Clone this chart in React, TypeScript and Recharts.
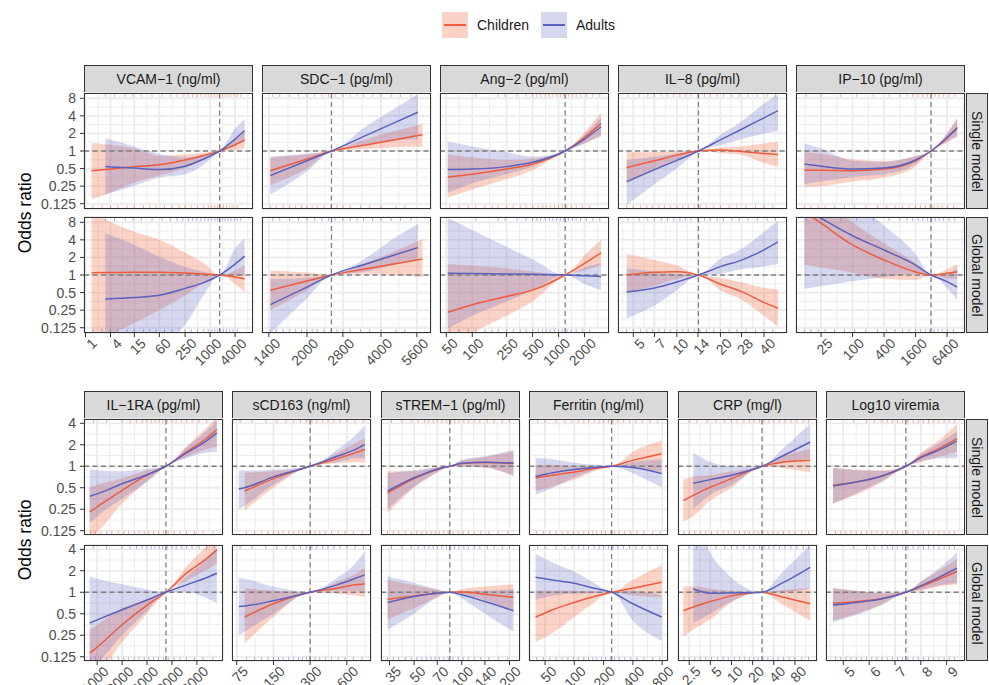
import React from 'react'
import { Area, CartesianGrid, ComposedChart, Line, ReferenceLine, Scatter, XAxis, YAxis } from 'recharts'

// every point is [lower, fit, upper] odds ratio; null where a group has no data

// VCAM-1 (ng/ml)
const vcamX = [1.4, 3, 15, 60, 250, 700, 1700, 4000, 6800]
const vcamTicks = [1, 4, 15, 60, 250, 1000, 4000]
const vcamSingleChildren = [[0.15, 0.46, 1.37], [0.18, 0.48, 1.3], [0.29, 0.54, 1.1], [0.38, 0.58, 0.83], [0.51, 0.7, 0.87], [0.7, 0.84, 0.93], [1, 1, 1], [1.05, 1.28, 1.5], [1.12, 1.55, 2.2]]
const vcamSingleAdults = [null, [0.18, 0.54, 1.65], [0.255, 0.51, 1.19], [0.35, 0.48, 0.89], [0.4, 0.55, 0.78], [0.58, 0.73, 0.85], [1, 1, 1], [1.23, 1.6, 2.4], [1.44, 2.25, 3.5]]
const vcamGlobalChildren = [[0.05, 1.09, 12], [0.08, 1.1, 9], [0.15, 1.12, 5.5], [0.25, 1.12, 4], [0.45, 1.08, 2.4], [0.72, 1.04, 1.6], [1, 1, 1], [0.7, 0.92, 1.2], [0.5, 0.86, 1.45]]
const vcamGlobalAdults = [null, [0.02, 0.39, 5.2], [0.04, 0.41, 3.3], [0.07, 0.45, 2.06], [0.14, 0.59, 1.39], [0.45, 0.74, 1.14], [1, 1, 1], [0.98, 1.54, 2.86], [1.0, 2.1, 4.2]]
const vcamRugTop = [3, 5, 9, 14, 22, 40, 70, 110, 160, 220, 300, 380, 480, 600, 750, 900, 1100, 1300, 1500, 1700, 2000, 2300, 2700, 3200, 3800, 4500, 5500]
const vcamRugBottom = [1.5, 2.5, 4, 6, 10, 15, 25, 35, 50, 80, 120, 180, 250, 350, 500, 700, 900, 1100, 1300, 1500, 1800, 2100, 2500, 3000, 3600, 4500]

// SDC-1 (pg/ml)
const sdcX = [1420, 2000, 2516, 3500, 4500, 5650, 5900]
const sdcTicks = [1400, 2000, 2800, 4000, 5600]
const sdcSingleChildren = [[0.26, 0.46, 0.78], [0.5, 0.73, 0.88], [1, 1, 1], [1.08, 1.28, 1.6], [1.15, 1.55, 2.2], [1.2, 1.84, 2.8], [1.15, 1.9, 3.0]]
const sdcSingleAdults = [[0.18, 0.38, 0.8], [0.45, 0.68, 0.9], [1, 1, 1], [1.3, 1.87, 2.7], [1.5, 3.0, 5.2], [1.6, 4.6, 9.5], null]
const sdcGlobalChildren = [[0.25, 0.55, 1.2], [0.55, 0.79, 1.1], [1, 1, 1], [1.05, 1.28, 1.65], [1.02, 1.54, 2.5], [0.93, 1.82, 3.8], [0.91, 1.88, 4.1]]
const sdcGlobalAdults = [[0.1, 0.31, 0.85], [0.4, 0.62, 0.9], [1, 1, 1], [1.15, 1.56, 2.0], [1.5, 2.18, 4.2], [1.8, 2.94, 7.5], null]
const sdcRugTop = [1450, 1550, 1700, 1850, 2000, 2150, 2300, 2450, 2600, 2800, 3000, 3200, 3400, 3700, 4000, 4400, 4800, 5300]
const sdcRugBottom = [1420, 1500, 1600, 1700, 1800, 1900, 2000, 2100, 2200, 2350, 2500, 2650, 2800, 3000, 3300, 3600, 4000, 4600, 5000]

// Ang-2 (pg/ml)
const angX = [52, 100, 250, 500, 1193, 2000, 3110]
const angTicks = [50, 100, 250, 500, 1000, 2000]
const angSingleChildren = [[0.16, 0.36, 0.87], [0.22, 0.4, 0.78], [0.33, 0.49, 0.7], [0.47, 0.6, 0.74], [1, 1, 1], [1.35, 1.71, 2.1], [1.9, 2.97, 4.6]]
const angSingleAdults = [[0.19, 0.48, 1.46], [0.28, 0.49, 1.2], [0.4, 0.54, 0.95], [0.54, 0.64, 0.8], [1, 1, 1], [1.35, 1.6, 1.9], [1.75, 2.6, 3.8]]
const angGlobalChildren = [[0.05, 0.23, 1.55], [0.1, 0.31, 1.45], [0.2, 0.43, 1.3], [0.35, 0.55, 1.15], [1, 1, 1], [1.2, 1.58, 2.2], [1.48, 2.41, 3.97]]
const angGlobalAdults = [[0.12, 1.07, 9.5], [0.2, 1.06, 5.9], [0.35, 1.04, 3.05], [0.55, 1.03, 1.86], [1, 1, 1], [0.7, 0.97, 1.35], [0.55, 0.94, 1.6]]
const angRugTop = [110, 200, 240, 330, 420, 500, 560, 620, 700, 780, 860, 950, 1050, 1150, 1300, 1450, 1600, 1800, 2100, 2500, 3000]
const angRugBottom = [55, 70, 90, 110, 140, 170, 200, 250, 300, 360, 420, 500, 580, 650, 720, 800, 900, 1000, 1100, 1250, 1400, 1600, 1900, 2300]

// IL-8 (pg/ml)
const il8X = [4.5, 7, 10, 14.1, 20, 28, 40, 50]
const il8Ticks = [5, 7, 10, 14, 20, 28, 40]
const il8SingleChildren = [[0.28, 0.52, 0.95], [0.47, 0.68, 0.95], [0.7, 0.85, 1.0], [1, 1, 1], [0.92, 1.04, 1.15], [0.85, 0.98, 1.2], [0.62, 0.91, 1.35], [0.53, 0.87, 1.44]]
const il8SingleAdults = [[0.12, 0.3, 0.7], [0.27, 0.48, 0.8], [0.5, 0.69, 0.9], [1, 1, 1], [1.25, 1.55, 1.9], [1.6, 2.36, 3.2], [2.0, 3.7, 6.5], [2.2, 4.9, 9.4]]
const il8GlobalChildren = [[0.5, 1.0, 2.3], [0.65, 1.11, 1.8], [0.85, 1.14, 1.45], [1, 1, 1], [0.55, 0.7, 0.9], [0.38, 0.52, 0.75], [0.2, 0.34, 0.6], [0.13, 0.27, 0.57]]
const il8GlobalAdults = [[0.18, 0.51, 1.3], [0.3, 0.6, 1.15], [0.55, 0.76, 1.05], [1, 1, 1], [1.05, 1.39, 1.9], [1.25, 1.8, 2.8], [1.4, 2.7, 5.5], [1.55, 3.7, 8.5]]
const il8RugTop = [4.6, 5.5, 6.3, 7, 7.8, 8.6, 9.5, 10.5, 11.5, 12.5, 14, 15.5, 17, 19, 21, 24, 27, 31, 36, 42, 48]
const il8RugBottom = [4.5, 5, 5.6, 6.2, 6.8, 7.5, 8.2, 9, 10, 11, 12, 13.2, 14.5, 16, 18, 20, 23, 26, 30, 35, 40, 46]

// IP-10 (pg/ml)
const ip10X = [12, 25, 100, 400, 1600, 3160, 6400, 10000]
const ip10Ticks = [25, 100, 400, 1600, 6400]
const ip10SingleChildren = [[0.24, 0.47, 0.95], [0.25, 0.47, 0.9], [0.3, 0.46, 0.72], [0.35, 0.49, 0.67], [0.55, 0.68, 0.82], [1, 1, 1], [1.4, 1.67, 2.0], [1.75, 2.54, 3.7]]
const ip10SingleAdults = [[0.27, 0.6, 1.35], [0.3, 0.55, 1.1], [0.36, 0.49, 0.68], [0.4, 0.51, 0.65], [0.6, 0.7, 0.82], [1, 1, 1], [1.45, 1.7, 2.0], [1.8, 2.44, 3.5]]
const ip10GlobalChildren = [[1.5, 12, 40], [1.35, 7.7, 25], [1.1, 3.27, 8], [0.85, 1.81, 3.5], [0.82, 1.13, 1.6], [1, 1, 1], [0.88, 1.07, 1.25], [0.85, 1.14, 1.55]]
const ip10GlobalAdults = [[0.58, 14, 100], [0.65, 9.4, 50], [0.78, 4.7, 20], [0.92, 2.68, 7], [1.05, 1.48, 2.3], [1, 1, 1], [0.6, 0.77, 1.05], [0.37, 0.62, 1.35]]
const ip10RugTop = [13, 25, 60, 120, 250, 500, 800, 1100, 1400, 1800, 2200, 2700, 3200, 3800, 4500, 5500, 7000, 9000]
const ip10RugBottom = [12, 16, 22, 30, 45, 70, 110, 180, 300, 450, 650, 900, 1200, 1600, 2000, 2500, 3000, 3600, 4300, 5200, 6500, 8500]

// IL-1RA (pg/ml)
const il1raX = [812, 1000, 2000, 4000, 6770, 12000, 20000, 27900]
const il1raTicks = [1000, 2000, 4000, 8000, 16000]
const il1raSingleChildren = [[0.1, 0.23, 0.51], [0.12, 0.27, 0.55], [0.3, 0.46, 0.68], [0.62, 0.75, 0.88], [1, 1, 1], [1.35, 1.59, 1.9], [1.7, 2.37, 3.3], [1.87, 3.27, 4.7]]
const il1raSingleAdults = [[0.16, 0.38, 0.9], [0.2, 0.41, 0.88], [0.35, 0.57, 0.85], [0.6, 0.76, 0.92], [1, 1, 1], [1.3, 1.54, 1.85], [1.55, 2.19, 3.0], [1.59, 2.94, 4.3]]
const il1raGlobalChildren = [[0.06, 0.14, 0.3], [0.07, 0.17, 0.35], [0.2, 0.35, 0.6], [0.5, 0.66, 0.8], [1, 1, 1], [1.45, 1.85, 2.3], [2.0, 2.85, 4.2], [2.5, 3.93, 6.5]]
const il1raGlobalAdults = [[0.08, 0.37, 1.66], [0.1, 0.41, 1.55], [0.25, 0.57, 1.3], [0.55, 0.78, 1.1], [1, 1, 1], [1.0, 1.27, 1.65], [0.85, 1.57, 2.8], [0.7, 1.85, 4.2]]
const il1raRugTop = [900, 1300, 2000, 2500, 3000, 3500, 4000, 4500, 5000, 5600, 6200, 7000, 8000, 9000, 10500, 12000, 14000, 17000, 21000, 26000]
const il1raRugBottom = [830, 950, 1100, 1300, 1500, 1800, 2100, 2400, 2800, 3200, 3700, 4200, 4800, 5500, 6300, 7200, 8500, 10000, 12000, 15000, 19000, 25000]

// sCD163 (ng/ml)
const scdX = [78, 87, 150, 300, 500, 700, 843]
const scdTicks = [75, 150, 300, 600]
const scdSingleChildren = [null, [0.24, 0.45, 0.82], [0.5, 0.67, 0.85], [1, 1, 1], [1.1, 1.28, 1.55], [1.15, 1.54, 2.1], [1.12, 1.73, 2.5]]
const scdSingleAdults = [[0.25, 0.48, 0.87], [0.28, 0.5, 0.87], [0.55, 0.71, 0.9], [1, 1, 1], [1.15, 1.38, 1.7], [1.3, 1.71, 2.7], [1.3, 2.01, 3.7]]
const scdGlobalChildren = [null, [0.19, 0.45, 1.15], [0.45, 0.69, 1.05], [1, 1, 1], [0.95, 1.14, 1.4], [0.9, 1.27, 1.8], [0.85, 1.32, 2.2]]
const scdGlobalAdults = [[0.25, 0.63, 1.6], [0.28, 0.64, 1.55], [0.5, 0.76, 1.2], [1, 1, 1], [1.05, 1.27, 1.6], [1.05, 1.56, 2.5], [1.0, 1.75, 3.8]]
const scdRugTop = [80, 100, 130, 160, 190, 220, 250, 280, 310, 340, 380, 420, 470, 530, 600, 700, 820]
const scdRugBottom = [90, 105, 120, 135, 150, 165, 180, 200, 220, 240, 260, 280, 300, 330, 360, 400, 450, 510, 580, 680, 800]

// sTREM-1 (pg/ml)
const stremX = [34, 50, 70, 84, 100, 140, 212]
const stremTicks = [35, 50, 70, 100, 140, 200]
const stremSingleChildren = [[0.22, 0.42, 0.85], [0.5, 0.67, 0.85], [0.82, 0.9, 0.98], [1, 1, 1], [1.0, 1.09, 1.2], [0.95, 1.13, 1.35], [0.75, 1.09, 1.6]]
const stremSingleAdults = [[0.25, 0.45, 0.8], [0.52, 0.69, 0.88], [0.83, 0.91, 0.97], [1, 1, 1], [1.0, 1.1, 1.22], [0.97, 1.14, 1.38], [0.72, 1.11, 1.7]]
const stremGlobalChildren = [[0.42, 0.8, 1.5], [0.6, 0.89, 1.25], [0.85, 0.97, 1.08], [1, 1, 1], [0.93, 1.01, 1.1], [0.78, 0.94, 1.2], [0.55, 0.85, 1.3]]
const stremGlobalAdults = [[0.3, 0.72, 1.66], [0.5, 0.87, 1.35], [0.85, 0.97, 1.1], [1, 1, 1], [0.82, 0.92, 1.04], [0.5, 0.74, 1.05], [0.28, 0.55, 1.1]]
const stremRugTop = [36, 42, 48, 53, 58, 62, 66, 70, 75, 80, 85, 90, 96, 103, 110, 120, 130, 145, 160, 180, 200]
const stremRugBottom = [34, 37, 40, 44, 48, 52, 56, 60, 64, 68, 72, 77, 82, 88, 95, 102, 110, 120, 132, 148, 170, 195]

// Ferritin (ng/ml)
const ferX = [40, 60, 100, 160, 242, 400, 790]
const ferTicks = [50, 100, 200, 400, 800]
const ferSingleChildren = [[0.45, 0.69, 1.05], [0.52, 0.75, 1.05], [0.65, 0.83, 1.0], [0.85, 0.93, 1.0], [1, 1, 1], [0.95, 1.21, 1.6], [0.83, 1.5, 2.27]]
const ferSingleAdults = [[0.4, 0.72, 1.32], [0.5, 0.81, 1.25], [0.7, 0.9, 1.12], [0.88, 0.96, 1.04], [1, 1, 1], [0.8, 0.96, 1.15], [0.5, 0.79, 1.25]]
const ferGlobalChildren = [[0.2, 0.45, 1.05], [0.27, 0.57, 1.05], [0.45, 0.72, 1.05], [0.72, 0.87, 1.03], [1, 1, 1], [0.9, 1.14, 1.5], [0.85, 1.38, 2.4]]
const ferGlobalAdults = [[0.78, 1.62, 3.5], [0.9, 1.49, 2.6], [0.95, 1.34, 1.95], [0.98, 1.14, 1.35], [1, 1, 1], [0.4, 0.69, 1.05], [0.21, 0.45, 0.9]]
const ferRugTop = [42, 50, 65, 80, 95, 110, 125, 140, 160, 180, 200, 225, 250, 280, 320, 370, 430, 500, 600, 720]
const ferRugBottom = [41, 48, 56, 65, 75, 86, 98, 110, 125, 140, 155, 170, 190, 210, 235, 260, 290, 330, 380, 440, 520, 640, 760]

// CRP (mg/l)
const crpX = [2.06, 2.85, 5, 10, 27.2, 50, 132]
const crpTicks = [2.5, 5, 10, 20, 40, 80]
const crpSingleChildren = [[0.17, 0.33, 0.65], [0.2, 0.39, 0.72], [0.33, 0.51, 0.75], [0.5, 0.67, 0.85], [1, 1, 1], [0.95, 1.13, 1.35], [0.82, 1.21, 1.75]]
const crpSingleAdults = [null, [0.25, 0.58, 1.55], [0.4, 0.65, 1.15], [0.55, 0.75, 1.0], [1, 1, 1], [1.1, 1.35, 1.65], [1.3, 2.19, 3.97]]
const crpGlobalChildren = [[0.24, 0.55, 1.2], [0.3, 0.62, 1.2], [0.42, 0.74, 1.12], [0.72, 0.89, 1.05], [1, 1, 1], [0.7, 0.87, 1.07], [0.4, 0.69, 1.15]]
const crpGlobalAdults = [null, [0.37, 1.11, 10], [0.5, 0.97, 3.5], [0.75, 0.98, 1.6], [1, 1, 1], [1.0, 1.31, 1.8], [1.14, 2.24, 4.6]]
const crpRugTop = [2.5, 3.2, 4.5, 6, 8, 10, 12, 15, 18, 21, 25, 29, 34, 40, 48, 58, 70, 85, 105, 125]
const crpRugBottom = [2.1, 2.5, 3, 3.6, 4.3, 5.2, 6.3, 7.6, 9, 11, 13, 15.5, 18, 21, 24, 28, 33, 39, 46, 55, 66, 80, 100, 125]

// Log10 viremia
const virX = [4.6, 5.5, 6.5, 7.42, 8, 8.7, 9.4]
const virTicks = [5, 6, 7, 8, 9]
const virSingleChildren = [[0.3, 0.54, 0.95], [0.4, 0.6, 0.9], [0.6, 0.73, 0.88], [1, 1, 1], [1.15, 1.35, 1.55], [1.35, 1.77, 2.3], [1.6, 2.44, 3.9]]
const virSingleAdults = [[0.3, 0.53, 0.95], [0.42, 0.6, 0.88], [0.62, 0.73, 0.86], [1, 1, 1], [1.18, 1.32, 1.48], [1.3, 1.68, 2.1], [1.3, 2.27, 3.1]]
const virGlobalChildren = [[0.4, 0.7, 1.15], [0.5, 0.74, 1.05], [0.68, 0.82, 0.98], [1, 1, 1], [1.05, 1.2, 1.4], [1.2, 1.52, 2.0], [1.3, 1.95, 2.9]]
const virGlobalAdults = [[0.38, 0.66, 1.15], [0.48, 0.72, 1.05], [0.67, 0.81, 0.97], [1, 1, 1], [1.08, 1.23, 1.42], [1.25, 1.62, 2.15], [1.35, 2.17, 3.6]]
const virRugTop = [5.4, 5.9, 6.2, 6.5, 6.7, 6.9, 7.1, 7.3, 7.5, 7.7, 7.9, 8.1, 8.3, 8.5, 8.7, 8.9, 9.1, 9.3]
const virRugBottom = [4.7, 4.9, 5.1, 5.3, 5.5, 5.7, 5.9, 6.1, 6.3, 6.5, 6.7, 6.9, 7.1, 7.3, 7.5, 7.7, 7.9, 8.1, 8.3, 8.5, 8.7, 8.9, 9.1, 9.3]

const yTicksTop = [0.125, 0.25, 0.5, 1, 2, 4, 8]
const yTicksBottom = [0.125, 0.25, 0.5, 1, 2, 4]

const CHILD_LINE = '#EF5B3D'
const CHILD_FILL = '#F26B43'
const ADULT_LINE = '#5C61BD'
const ADULT_FILL = '#6268C4'
const CHILD_OPACITY = 0.3
const ADULT_OPACITY = 0.26
const TEXT_GREY = '#4D4D4D'
const DARK = '#333333'

const topVars = [
  { label: 'VCAM−1 (ng/ml)', x: vcamX, ticks: vcamTicks, ref: 1700, domain: [0.92, 10800], log: true, sc: vcamSingleChildren, sa: vcamSingleAdults, gc: vcamGlobalChildren, ga: vcamGlobalAdults, rugTop: vcamRugTop, rugBottom: vcamRugBottom },
  { label: 'SDC−1 (pg/ml)', x: sdcX, ticks: sdcTicks, ref: 2516, domain: [1313, 6390], log: true, sc: sdcSingleChildren, sa: sdcSingleAdults, gc: sdcGlobalChildren, ga: sdcGlobalAdults, rugTop: sdcRugTop, rugBottom: sdcRugBottom },
  { label: 'Ang−2 (pg/ml)', x: angX, ticks: angTicks, ref: 1193, domain: [42.3, 3840], log: true, sc: angSingleChildren, sa: angSingleAdults, gc: angGlobalChildren, ga: angGlobalAdults, rugTop: angRugTop, rugBottom: angRugBottom },
  { label: 'IL−8 (pg/ml)', x: il8X, ticks: il8Ticks, ref: 14.1, domain: [3.92, 57.7], log: true, sc: il8SingleChildren, sa: il8SingleAdults, gc: il8GlobalChildren, ga: il8GlobalAdults, rugTop: il8RugTop, rugBottom: il8RugBottom },
  { label: 'IP−10 (pg/ml)', x: ip10X, ticks: ip10Ticks, ref: 3160, domain: [8.3, 14100], log: true, sc: ip10SingleChildren, sa: ip10SingleAdults, gc: ip10GlobalChildren, ga: ip10GlobalAdults, rugTop: ip10RugTop, rugBottom: ip10RugBottom },
]

const bottomVars = [
  { label: 'IL−1RA (pg/ml)', x: il1raX, ticks: il1raTicks, ref: 6770, domain: [693, 33100], log: true, sc: il1raSingleChildren, sa: il1raSingleAdults, gc: il1raGlobalChildren, ga: il1raGlobalAdults, rugTop: il1raRugTop, rugBottom: il1raRugBottom },
  { label: 'sCD163 (ng/ml)', x: scdX, ticks: scdTicks, ref: 300, domain: [68.6, 947], log: true, sc: scdSingleChildren, sa: scdSingleAdults, gc: scdGlobalChildren, ga: scdGlobalAdults, rugTop: scdRugTop, rugBottom: scdRugBottom },
  { label: 'sTREM−1 (pg/ml)', x: stremX, ticks: stremTicks, ref: 84, domain: [30.9, 233], log: true, sc: stremSingleChildren, sa: stremSingleAdults, gc: stremGlobalChildren, ga: stremGlobalAdults, rugTop: stremRugTop, rugBottom: stremRugBottom },
  { label: 'Ferritin (ng/ml)', x: ferX, ticks: ferTicks, ref: 242, domain: [34.2, 919], log: true, sc: ferSingleChildren, sa: ferSingleAdults, gc: ferGlobalChildren, ga: ferGlobalAdults, rugTop: ferRugTop, rugBottom: ferRugBottom },
  { label: 'CRP (mg/l)', x: crpX, ticks: crpTicks, ref: 27.2, domain: [1.73, 165], log: true, sc: crpSingleChildren, sa: crpSingleAdults, gc: crpGlobalChildren, ga: crpGlobalAdults, rugTop: crpRugTop, rugBottom: crpRugBottom },
  { label: 'Log10 viremia', x: virX, ticks: virTicks, ref: 7.42, domain: [4.33, 9.71], log: false, sc: virSingleChildren, sa: virSingleAdults, gc: virGlobalChildren, ga: virGlobalAdults, rugTop: virRugTop, rugBottom: virRugBottom },
]

// minor grid breaks half way between major ones (in transformed space)
function minorBreaks(ticks: number[], domain: number[], log: boolean) {
  const n = ticks.length
  const mid = (a: number, b: number) => (log ? Math.sqrt(a * b) : (a + b) / 2)
  const out = [log ? ticks[0] / Math.sqrt(ticks[1] / ticks[0]) : ticks[0] - (ticks[1] - ticks[0]) / 2]
  for (let i = 0; i < n - 1; i++) out.push(mid(ticks[i], ticks[i + 1]))
  out.push(log ? ticks[n - 1] * Math.sqrt(ticks[n - 1] / ticks[n - 2]) : ticks[n - 1] + (ticks[n - 1] - ticks[n - 2]) / 2)
  return out.filter((v) => v > domain[0] && v < domain[1])
}

// rotated 45 degree labels, top-right corner near the tick
const XTick = (p: any) => {
  const x = p.x + 5
  return (
    <text
      x={x}
      y={p.y}
      transform={`rotate(-45 ${x} ${p.y})`}
      textAnchor="end"
      dominantBaseline="hanging"
      fontSize={14}
      fill={TEXT_GREY}
    >
      {p.payload.value}
    </text>
  )
}

const Y_W = 84
const X_H = 44

function Panel({ v, row, left, top, w, h, yDomain, yTicks, showY, showX }: any) {
  const yw = showY ? Y_W : 0
  const xh = showX ? X_H : 0
  const c = row === 'single' ? v.sc : v.gc
  const a = row === 'single' ? v.sa : v.ga
  const data = v.x.map((x: number, i: number) => ({
    x,
    cFit: c[i] ? c[i][1] : null,
    cBand: c[i] ? [c[i][0], c[i][2]] : null,
    aFit: a[i] ? a[i][1] : null,
    aBand: a[i] ? [a[i][0], a[i][2]] : null,
  }))
  const rugColor = row === 'single' ? CHILD_LINE : ADULT_LINE
  const rugTop = v.rugTop.map((x: number) => ({ x, y: yDomain[1] }))
  const rugBottom = v.rugBottom.map((x: number) => ({ x, y: yDomain[0] }))
  const rug = (dir: number) => (p: any) => (
    <line x1={p.cx} x2={p.cx} y1={p.cy} y2={p.cy + dir * 4} stroke={rugColor} strokeOpacity={0.55} strokeWidth={0.9} />
  )
  return (
    <>
      <div style={{ position: 'absolute', left: left - yw, top }}>
        <ComposedChart width={w + yw} height={h + xh} data={data} margin={{ top: 0, right: 0, bottom: 0, left: 0 }}>
          <CartesianGrid
            stroke="#EBEBEB"
            strokeWidth={0.9}
            verticalValues={minorBreaks(v.ticks, v.domain, v.log)}
            horizontalValues={minorBreaks(yTicks, yDomain, true)}
          />
          <CartesianGrid stroke="#EBEBEB" strokeWidth={1.8} />
          <XAxis
            dataKey="x"
            type="number"
            scale={v.log ? 'log' : 'linear'}
            domain={v.domain}
            allowDataOverflow
            ticks={v.ticks}
            interval={0}
            hide={!showX}
            height={xh}
            axisLine={false}
            tickSize={4}
            tickMargin={0}
            tickLine={{ stroke: DARK }}
            tick={(p: any) => <XTick {...p} />}
          />
          <YAxis
            type="number"
            scale="log"
            domain={yDomain}
            allowDataOverflow
            ticks={yTicks}
            interval={0}
            hide={!showY}
            width={yw}
            axisLine={false}
            tickSize={4}
            tickMargin={4}
            tickLine={{ stroke: DARK }}
            tick={{ fontSize: 14, fill: TEXT_GREY }}
          />
          <Area dataKey="cBand" type="monotone" stroke="none" fill={CHILD_FILL} fillOpacity={CHILD_OPACITY} isAnimationActive={false} />
          <Area dataKey="aBand" type="monotone" stroke="none" fill={ADULT_FILL} fillOpacity={ADULT_OPACITY} isAnimationActive={false} />
          <ReferenceLine y={1} stroke="#808080" strokeWidth={1.3} strokeDasharray="5 3.5" />
          <ReferenceLine x={v.ref} stroke="#808080" strokeWidth={1.3} strokeDasharray="5 3.5" />
          <Line dataKey="cFit" type="monotone" stroke={CHILD_LINE} strokeWidth={1.5} dot={false} isAnimationActive={false} />
          <Line dataKey="aFit" type="monotone" stroke={ADULT_LINE} strokeWidth={1.5} dot={false} isAnimationActive={false} />
          <Scatter data={rugTop} dataKey="y" shape={rug(1)} isAnimationActive={false} />
          <Scatter data={rugBottom} dataKey="y" shape={rug(-1)} isAnimationActive={false} />
        </ComposedChart>
      </div>
      <div
        style={{
          position: 'absolute', left, top, width: w, height: h,
          border: `1.5px solid ${DARK}`, boxSizing: 'border-box', pointerEvents: 'none',
        }}
      />
    </>
  )
}

function Strip({ left, top, w, h, label, vertical }: any) {
  return (
    <div
      style={{
        position: 'absolute', left, top, width: w, height: h, boxSizing: 'border-box',
        background: '#D9D9D9', border: `1.5px solid ${DARK}`, color: '#1A1A1A', fontSize: 14,
        display: 'flex', alignItems: 'center', justifyContent: 'center', whiteSpace: 'nowrap',
        writingMode: vertical ? 'vertical-rl' : undefined,
      }}
    >
      {label}
    </div>
  )
}

function Block({ vars, lefts, w, stripTop, rows, yDomain, yTicks, titleY }: any) {
  return (
    <>
      {vars.map((v: any, i: number) => (
        <Strip key={'s' + i} left={lefts[i]} top={stripTop} w={w} h={28} label={v.label} />
      ))}
      {rows.map((r: any) =>
        vars.map((v: any, i: number) => (
          <Panel
            key={r.row + i}
            v={v}
            row={r.row}
            left={lefts[i]}
            top={r.top}
            w={w}
            h={r.h}
            yDomain={yDomain}
            yTicks={yTicks}
            showY={i === 0}
            showX={r.row === 'global'}
          />
        ))
      )}
      {rows.map((r: any) => (
        <Strip key={'r' + r.row} left={966} top={r.top} w={22} h={r.h} label={r.row === 'single' ? 'Single model' : 'Global model'} vertical />
      ))}
      <div
        style={{
          position: 'absolute', left: 25, top: titleY, transform: 'translate(-50%, -50%) rotate(-90deg)',
          fontSize: 17.5, color: '#000', whiteSpace: 'nowrap',
        }}
      >
        Odds ratio
      </div>
    </>
  )
}

function LegendKey({ left, fill, opacity, line, label }: any) {
  return (
    <>
      <div style={{ position: 'absolute', left, top: 12, width: 26, height: 26, background: fill, opacity }} />
      <div style={{ position: 'absolute', left: left + 2, top: 24, width: 22, height: 1.5, background: line }} />
      <div style={{ position: 'absolute', left: left + 35, top: 25, transform: 'translateY(-50%)', fontSize: 14, color: '#1A1A1A' }}>
        {label}
      </div>
    </>
  )
}

export default function App() {
  return (
    <div
      style={{
        position: 'absolute', left: 0, top: 0, width: 989, height: 685, overflow: 'hidden',
        background: '#fff', fontFamily: '"Liberation Sans", Arial, sans-serif',
      }}
    >
      <style>{'.recharts-surface { overflow: visible; } .recharts-wrapper { overflow: visible; }'}</style>
      <LegendKey left={442} fill={CHILD_FILL} opacity={CHILD_OPACITY} line={CHILD_LINE} label="Children" />
      <LegendKey left={541} fill={ADULT_FILL} opacity={ADULT_OPACITY} line={ADULT_LINE} label="Adults" />
      <Block
        vars={topVars}
        lefts={[84, 262, 440, 618, 796]}
        w={169}
        stripTop={65}
        rows={[{ row: 'single', top: 93, h: 116 }, { row: 'global', top: 217, h: 116 }]}
        yDomain={[Math.pow(2, -3.3), Math.pow(2, 3.3)]}
        yTicks={yTicksTop}
        titleY={213}
      />
      <Block
        vars={bottomVars}
        lefts={[84, 232, 381, 529, 678, 826]}
        w={139}
        stripTop={391}
        rows={[{ row: 'single', top: 419, h: 116 }, { row: 'global', top: 545, h: 116 }]}
        yDomain={[Math.pow(2, -3.2), Math.pow(2, 2.2)]}
        yTicks={yTicksBottom}
        titleY={540}
      />
    </div>
  )
}
